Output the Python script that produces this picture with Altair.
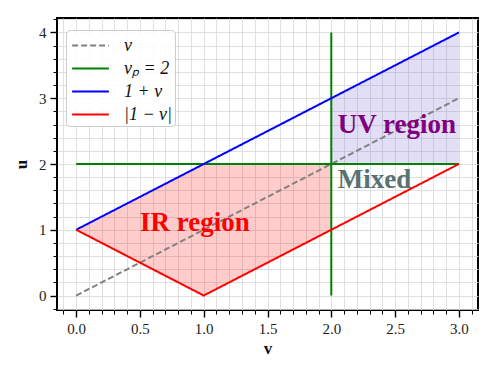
import altair as alt
import pandas as pd

# ---- data ----
series_names = ["v", "vₚ = 2", "1 + v", "|1 − v|"]
series_colors = ["#808080", "#008000", "#0000ff", "#ff0000"]

diag_v = [0, 3]
diag_u = [0, 3]
vp_h_v = [0, 3]
vp_h_u = [2, 2]
vp_v_v = [2, 2]
vp_v_u = [0, 4]
plus_v = [0, 3]
plus_u = [1, 4]
minus_v = [0, 1, 3]
minus_u = [1, 0, 2]

ir_v = [0, 1, 2]
ir_low = [1, 0, 1]
ir_high = [1, 2, 2]
uv_v = [2, 3]
uv_low = [2, 2]
uv_high = [3, 4]

labels_text = ["UV region", "Mixed", "IR region"]
labels_v = [2.05, 2.05, 0.5]
labels_u = [2.6, 1.76, 1.11]
labels_color = ["#800080", "#587272", "#ff0000"]

x_ticks = [round(-0.1 + 0.1 * i, 1) for i in range(33)]
y_ticks = [round(-0.2 + 0.2 * i, 1) for i in range(23)]

# ---- tables ----
rows = []
segs = [
    ("v", "d", diag_v, diag_u),
    ("vₚ = 2", "gh", vp_h_v, vp_h_u),
    ("vₚ = 2", "gv", vp_v_v, vp_v_u),
    ("1 + v", "p", plus_v, plus_u),
    ("|1 − v|", "m", minus_v, minus_u),
]
for s, seg, vs, us in segs:
    for i, (a, b) in enumerate(zip(vs, us)):
        rows.append({"series": s, "seg": seg, "ord": i, "v": a, "u": b})
lines_df = pd.DataFrame(rows)
ir_df = pd.DataFrame({"v": ir_v, "lo": ir_low, "hi": ir_high})
uv_df = pd.DataFrame({"v": uv_v, "lo": uv_low, "hi": uv_high})

FONT = "Liberation Serif"

xscale = alt.Scale(domain=[-0.15, 3.15], nice=False, zero=False)
yscale = alt.Scale(domain=[-0.22, 4.22], nice=False, zero=False)

x_major_test = "abs(datum.value*2 - round(datum.value*2)) < 1e-6"
y_major_test = "abs(datum.value - round(datum.value)) < 1e-6"

xaxis = alt.Axis(
    values=x_ticks, title="v", grid=True, domain=False,
    labelExpr="(" + x_major_test + " && datum.value > -0.01 && datum.value < 3.01) ? format(datum.value, '.1f') : ''",
    tickSize={"condition": {"test": x_major_test, "value": 7}, "value": 4},
    tickWidth={"condition": {"test": x_major_test, "value": 1.4}, "value": 1},
    tickColor="black", labelFont=FONT, labelFontSize=15, labelColor="#222",
    labelFlush=False, labelOverlap=False,
    titleFont=FONT, titleFontSize=17, titleFontWeight="bold", titleColor="#111",
    labelPadding=4, titlePadding=4, gridColor="#d8d8d8", gridWidth=0.8,
)
yaxis = alt.Axis(
    values=y_ticks, title="u", grid=True, domain=False,
    labelExpr="(" + y_major_test + " && datum.value > -0.01 && datum.value < 4.01) ? format(datum.value, 'd') : ''",
    tickSize={"condition": {"test": y_major_test, "value": 7}, "value": 4},
    tickWidth={"condition": {"test": y_major_test, "value": 1.4}, "value": 1},
    tickColor="black", labelFont=FONT, labelFontSize=15, labelColor="#222",
    labelFlush=False, labelOverlap=False,
    titleFont=FONT, titleFontSize=17, titleFontWeight="bold", titleColor="#111",
    labelPadding=4, titlePadding=8, gridColor="#d8d8d8", gridWidth=0.8,
)

ir = alt.Chart(ir_df).mark_area(color="#ff0000", opacity=0.2).encode(
    x=alt.X("v:Q", scale=xscale, axis=xaxis),
    y=alt.Y("lo:Q", scale=yscale, axis=yaxis),
    y2="hi:Q",
)
uv = alt.Chart(uv_df).mark_area(color="slateblue", opacity=0.2).encode(
    x=alt.X("v:Q", scale=xscale, axis=xaxis),
    y=alt.Y("lo:Q", scale=yscale, axis=yaxis),
    y2="hi:Q",
)

leg = dict(
    title=None, orient="none", legendX=9, legendY=12,
    labelFont=FONT, labelFontSize=18, labelFontStyle="italic", labelColor="#111",
    symbolType="M-1.5,0H1.5", symbolSize=600, symbolStrokeWidth=2,
    symbolFillColor="transparent", symbolOffset=9,
    strokeColor="#cccccc", fillColor="rgba(255,255,255,0.85)", cornerRadius=4,
    padding=2, rowPadding=-0.5, labelOffset=20,
)

lines = alt.Chart(lines_df).mark_line(strokeWidth=2).encode(
    x=alt.X("v:Q", scale=xscale, axis=xaxis),
    y=alt.Y("u:Q", scale=yscale, axis=yaxis),
    color=alt.Color("series:N", scale=alt.Scale(domain=series_names, range=series_colors),
                    legend=alt.Legend(**leg)),
    strokeDash=alt.StrokeDash("series:N",
                              scale=alt.Scale(domain=series_names, range=[[6, 3], [1, 0], [1, 0], [1, 0]]),
                              legend=alt.Legend(**leg)),
    detail="seg:N",
    order="ord:Q",
)

texts = []
for t, a, b, c in zip(labels_text, labels_v, labels_u, labels_color):
    tdf = pd.DataFrame({"v": [a], "u": [b], "t": [t]})
    texts.append(
        alt.Chart(tdf).mark_text(font=FONT, fontSize=27, fontWeight="bold", align="left",
                                 baseline="middle", color=c).encode(
            x=alt.X("v:Q", scale=xscale, axis=xaxis),
            y=alt.Y("u:Q", scale=yscale, axis=yaxis),
            text="t:N",
        )
    )

chart = alt.layer(ir, uv, lines, *texts).properties(
    width=421, height=292,
    autosize=alt.AutoSizeParams(type="none"),
    padding={"left": 49, "top": 10, "right": 12, "bottom": 48},
).configure_view(stroke="black", strokeWidth=2)

chart.save("out.html", embed_options={"renderer": "svg", "actions": False})
